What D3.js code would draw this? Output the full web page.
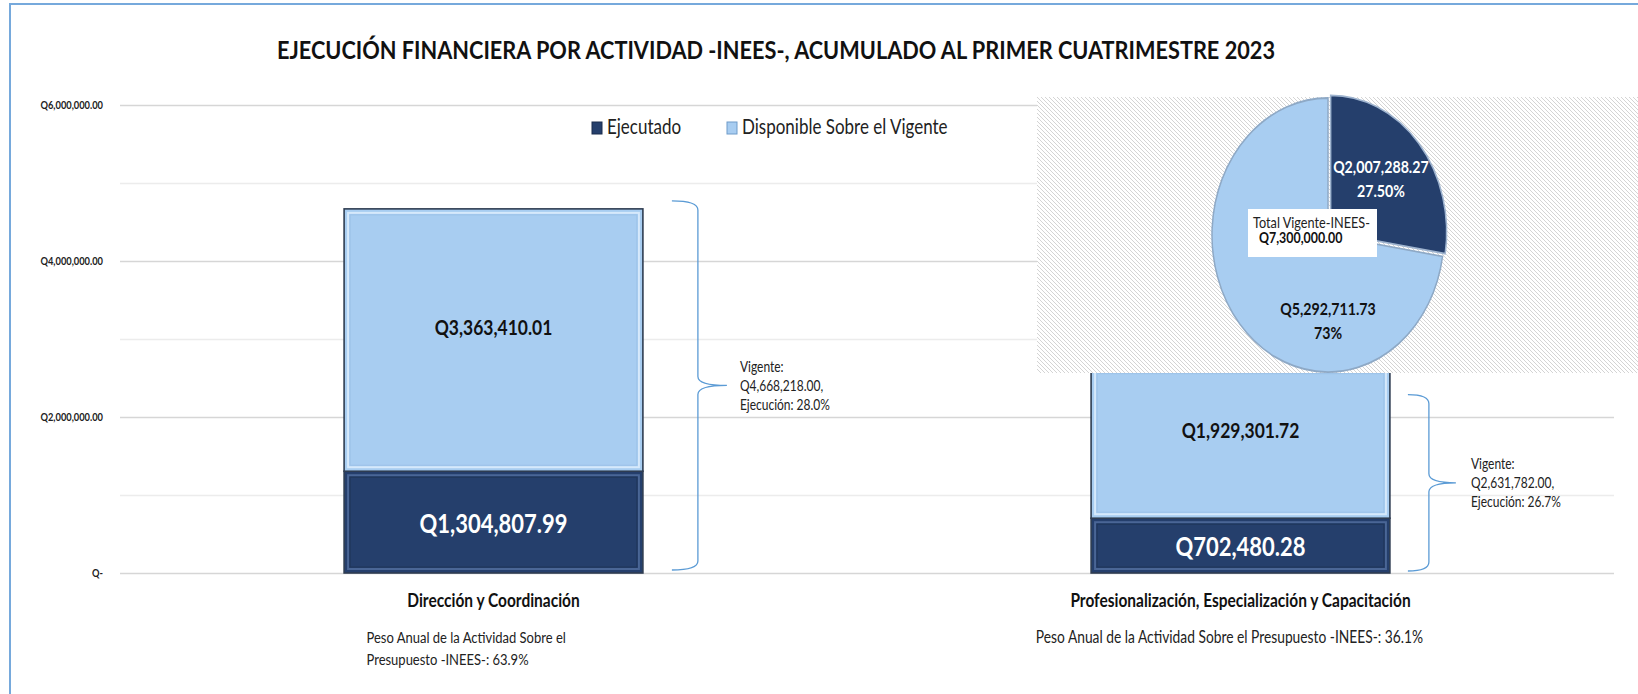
<!DOCTYPE html>
<html>
<head>
<meta charset="utf-8">
<style>
    body { margin: 0; background: #fff; }
    svg text { font-family: Lato, "Liberation Sans", sans-serif; }
</style>
</head>
<body>
<div class="container"></div>
<script src="https://d3js.org/d3.v7.min.js"></script>
<script>
    // datos
    var categories = ["Dirección y Coordinación", "Profesionalización, Especialización y Capacitación"];
    var seriesNames = ["Ejecutado", "Disponible Sobre el Vigente"];
    var ejecutado = [1304807.99, 702480.28];
    var disponible = [3363410.01, 1929301.72];
    var vigente = [4668218.00, 2631782.00];
    var ejecucionPct = ["28.0%", "26.7%"];
    var pesoAnual = ["63.9%", "36.1%"];
    var yTicks = [0, 2000000, 4000000, 6000000];
    var yGrid = [0, 1000000, 2000000, 3000000, 4000000, 5000000, 6000000];
    var pieValues = [2007288.27, 5292711.73];
    var piePct = ["27.50%", "73%"];
    var totalVigente = 7300000.00;

    var W = 1638, H = 694;
    var S = 1.2; // el texto original esta estirado en vertical
    var dark = "#253f6c", light = "#a8cdf1";
    var fmtQ = d3.format(",.2f");

    var svg = d3.select(".container").append("svg")
        .attr("width", W).attr("height", H);

    var defs = svg.append("defs");
    var pat = defs.append("pattern").attr("id", "hatch")
        .attr("width", 4).attr("height", 4).attr("patternUnits", "userSpaceOnUse");
    pat.append("rect").attr("width", 4).attr("height", 4).attr("fill", "#fff");
    pat.append("path").attr("d", "M-1,-1 L5,5 M-1,3 L1,5 M3,-1 L5,1")
        .attr("stroke", "#c9c9c9").attr("stroke-width", 0.8);

    // texto con estiramiento vertical, y = centro de mayusculas
    function txt(x, y, s, size, opt) {
        opt = opt || {};
        var g = svg.append("g").attr("transform", "translate(" + x + "," + y + ") scale(1," + S + ")");
        var t = g.append("text")
            .attr("x", 0).attr("y", 0.36 * size)
            .attr("font-size", size)
            .attr("font-weight", opt.bold ? "bold" : "normal")
            .attr("fill", opt.fill || "#222")
            .attr("text-anchor", opt.anchor || "start")
            .text(s);
        if (opt.len) t.attr("textLength", opt.len).attr("lengthAdjust", "spacingAndGlyphs");
        return t;
    }

    // marco
    svg.append("line").attr("x1", 9).attr("x2", W).attr("y1", 4).attr("y2", 4)
        .attr("stroke", "#76a9dc").attr("stroke-width", 2);
    svg.append("line").attr("x1", 10).attr("x2", 10).attr("y1", 4).attr("y2", H)
        .attr("stroke", "#76a9dc").attr("stroke-width", 2);

    txt(776, 50, "EJECUCIÓN FINANCIERA POR ACTIVIDAD -INEES-, ACUMULADO AL PRIMER CUATRIMESTRE 2023", 21.2,
        { bold: true, anchor: "middle", len: 998, fill: "#111" });

    var x = d3.scaleBand().domain(categories).range([120, 1614]).paddingInner(0.6).paddingOuter(0.3);
    var y = d3.scaleLinear().domain([0, 6000000]).range([573, 105]);

    // rejilla
    svg.append("g").selectAll("line").data(yGrid).enter().append("line")
        .attr("x1", 120).attr("x2", 1614)
        .attr("y1", d => Math.round(y(d)) + 0.5).attr("y2", d => Math.round(y(d)) + 0.5)
        .attr("stroke", d => d % 2000000 === 0 ? "#d6d6d6" : "#ececec")
        .attr("stroke-width", 1.3);

    yTicks.forEach(function (v) {
        txt(103, y(v), v === 0 ? "Q-" : "Q" + fmtQ(v), 9.3, { bold: true, anchor: "end" });
    });

    // barras apiladas
    var rows = categories.map((c, i) => ({ cat: c, ejecutado: ejecutado[i], disponible: disponible[i] }));
    var stack = d3.stack().keys(["ejecutado", "disponible"])(rows);
    var fills = { ejecutado: dark, disponible: light };
    var inner = { ejecutado: "#4a6696", disponible: "#d6e9fb" };
    var bw = x.bandwidth();

    stack.forEach(function (layer) {
        layer.forEach(function (d) {
            var x0 = x(d.data.cat), y0 = y(d[1]), h = y(d[0]) - y(d[1]);
            svg.append("rect").attr("x", x0).attr("y", y0).attr("width", bw).attr("height", h)
                .attr("fill", fills[layer.key]).attr("stroke", "#2f3d52").attr("stroke-width", 1.6);
            svg.append("rect").attr("x", x0 + 4).attr("y", y0 + 4).attr("width", bw - 8).attr("height", h - 8)
                .attr("fill", "none").attr("stroke", inner[layer.key]).attr("stroke-width", 2);
            svg.append("rect").attr("x", x0 + 6).attr("y", y0 + 6).attr("width", bw - 12).attr("height", h - 12)
                .attr("fill", "none").attr("stroke", layer.key === "ejecutado" ? "#203659" : "#9cc2e8").attr("stroke-width", 1);
        });
    });

    // etiquetas de barras
    stack.forEach(function (layer) {
        layer.forEach(function (d) {
            var cx = x(d.data.cat) + bw / 2;
            var cy = (y(d[0]) + y(d[1])) / 2;
            var v = d.data[layer.key];
            if (layer.key === "ejecutado") {
                txt(cx, cy + 1, "Q" + fmtQ(v), 22, { bold: true, anchor: "middle", fill: "#fff" });
            } else {
                txt(cx, cy - 13, "Q" + fmtQ(v), 17.5, { bold: true, anchor: "middle", fill: "#111" });
            }
        });
    });

    // llaves de vigente
    var braceDx = [[29, 55, 84, 97], [18, 39, 66, 81]];
    var braceDy = [[-8, -3], [27, -2]];
    categories.forEach(function (c, i) {
        var r = x(c) + bw;
        var x0 = r + braceDx[i][0], xv = r + braceDx[i][1], xt = r + braceDx[i][2];
        var yt = y(vigente[i]) + braceDy[i][0], yb = y(0) + braceDy[i][1], ym = (yt + yb) / 2;
        var p = "M" + x0 + "," + yt + " Q" + xv + "," + yt + " " + xv + "," + (yt + 9) +
            " L" + xv + "," + (ym - 9) + " Q" + xv + "," + ym + " " + xt + "," + ym +
            " Q" + xv + "," + ym + " " + xv + "," + (ym + 9) +
            " L" + xv + "," + (yb - 9) + " Q" + xv + "," + yb + " " + x0 + "," + yb;
        svg.append("path").attr("d", p).attr("fill", "none").attr("stroke", "#5b9bd5").attr("stroke-width", 1.3);
        var tx = r + braceDx[i][3];
        txt(tx, ym - 19, "Vigente:", 12);
        txt(tx, ym, "Q" + fmtQ(vigente[i]) + ",", 12);
        txt(tx, ym + 19, "Ejecución: " + ejecucionPct[i], 12);
    });

    // categorias y peso anual
    categories.forEach(function (c, i) {
        txt(x(c) + bw / 2, 600, c, 15.5, { bold: true, anchor: "middle", fill: "#111" });
    });
    var c0 = x(categories[0]) + bw / 2, c1 = x(categories[1]) + bw / 2;
    txt(c0 - 127, 637, "Peso  Anual de la Actividad Sobre el", 13);
    txt(c0 - 127, 659, "Presupuesto -INEES-: " + pesoAnual[0], 13);
    txt(c1 - 11, 637, "Peso  Anual de la Actividad Sobre el Presupuesto -INEES-: " + pesoAnual[1], 13.8, { anchor: "middle" });

    // leyenda
    var legX = [592, 727];
    seriesNames.forEach(function (s, i) {
        svg.append("rect").attr("x", legX[i]).attr("y", 122).attr("width", 10).attr("height", 12)
            .attr("fill", i === 0 ? dark : light).attr("stroke", i === 0 ? "#1a2c4c" : "#6f9bc9").attr("stroke-width", 1);
        txt(legX[i] + 15, 127, s, 17);
    });

    // recuadro con el pastel
    svg.append("rect").attr("x", 1037).attr("y", 97).attr("width", W - 1037).attr("height", 276)
        .attr("fill", "url(#hatch)");

    var pcx = 1328, pcy = 235, prx = 116, pry = 137;
    var pie = d3.pie().sort(null)(pieValues);
    var arc = d3.arc().innerRadius(0).outerRadius(prx);
    var pg = svg.append("g").attr("transform", "translate(" + pcx + "," + pcy + ") scale(1," + (pry / prx) + ")");
    var pieFill = [dark, light];
    pie.forEach(function (d, i) {
        var mid = (d.startAngle + d.endAngle) / 2;
        var off = i === 0 ? 3.5 : 0;
        pg.append("path").attr("d", arc(d))
            .attr("transform", "translate(" + (Math.sin(mid) * off) + "," + (-Math.cos(mid) * off) + ")")
            .attr("fill", pieFill[i]).attr("stroke", i === 0 ? "#9fb4cf" : "#8ea9c6").attr("stroke-width", 1.5);
    });
    var labAngle = [null, Math.PI];
    pie.forEach(function (d, i) {
        var a = labAngle[i] === null ? (d.startAngle + d.endAngle) / 2 : labAngle[i];
        var lx = pcx + Math.sin(a) * prx * 0.6;
        var ly = pcy - Math.cos(a) * pry * 0.63;
        var col = i === 0 ? "#fff" : "#111";
        txt(lx, ly - 12, "Q" + fmtQ(pieValues[i]), 14.2, { bold: true, anchor: "middle", fill: col });
        txt(lx, ly + 12, piePct[i], 14.2, { bold: true, anchor: "middle", fill: col });
    });

    svg.append("rect").attr("x", 1248).attr("y", 209).attr("width", 129).attr("height", 48).attr("fill", "#fff");
    txt(1253, 222, "Total Vigente-INEES-", 12.7);
    txt(1259, 238, "Q" + fmtQ(totalVigente), 12.4, { bold: true, fill: "#111" });
</script>
</body>
</html>
